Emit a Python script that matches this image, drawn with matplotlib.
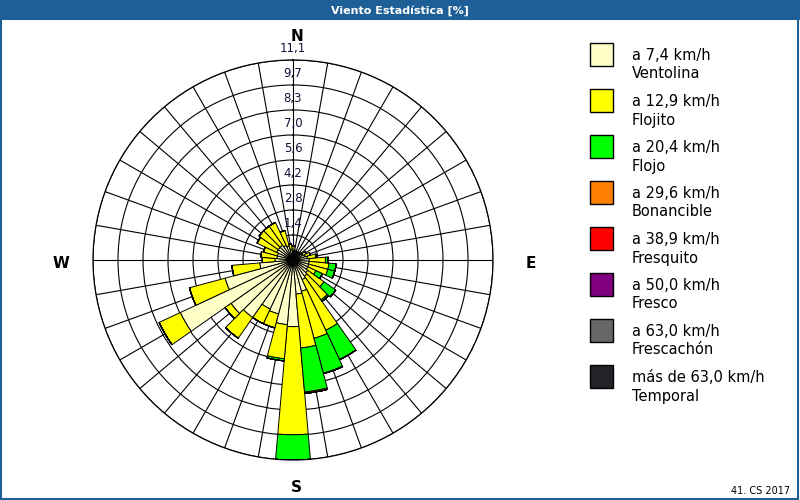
import numpy as np
import matplotlib
matplotlib.use("Agg")
import matplotlib.pyplot as plt
from matplotlib.patches import Rectangle

# wind directions (deg, clockwise from N) and % per speed class
dirs = np.arange(0, 360, 10)
ventolina = [0.5, 0.4, 0.4, 0.4, 0.4, 0.5, 0.6, 0.7, 0.8, 0.9, 0.9, 0.9,
             0.9, 1.0, 1.1, 1.2, 1.8, 1.9, 3.7, 3.6, 3.1, 3.0, 3.9, 4.2,
             6.9, 3.9, 1.85, 1.0, 0.9, 0.9, 1.0, 1.0, 1.0, 0.9, 0.8, 0.6]
flojito = [0.3, 0.1, 0.1, 0.1, 0.1, 0.1, 0.2, 0.3, 0.5, 0.9, 1.1, 1.1,
           0.5, 1.1, 1.6, 3.1, 2.7, 3.0, 6.0, 1.9, 0.8, 0.9, 1.4, 0.4,
           1.3, 2.05, 1.55, 0.7, 0.9, 0.8, 1.2, 1.3, 1.3, 1.4, 0.9, 0.3]
flojo = [0, 0, 0, 0, 0, 0, 0, 0, 0, 0.15, 0.4, 0.4,
         0.4, 0.8, 0.1, 1.8, 2.0, 2.45, 1.4, 0.12, 0, 0, 0, 0,
         0, 0, 0, 0, 0, 0, 0, 0, 0, 0, 0, 0]
bonancible = [0] * 16 + [0.03, 0.08] + [0] * 18
fresquito = [0] * 36
fresco = [0] * 36
frescachon = [0] * 36
temporal = [0] * 36

classes = [ventolina, flojito, flojo, bonancible, fresquito, fresco, frescachon, temporal]
colors = ["#ffffc8", "#ffff00", "#00ff00", "#ff8000", "#ff0000", "#800080", "#666666", "#222228"]
speeds = ["a 7,4 km/h", "a 12,9 km/h", "a 20,4 km/h", "a 29,6 km/h",
          "a 38,9 km/h", "a 50,0 km/h", "a 63,0 km/h", "más de 63,0 km/h"]
names = ["Ventolina", "Flojito", "Flojo", "Bonancible",
         "Fresquito", "Fresco", "Frescachón", "Temporal"]
ring_labels = ["1,4", "2,8", "4,2", "5,6", "7,0", "8,3", "9,7", "11,1"]
rmax = 11.1

blue = "#1f5f97"
fig = plt.figure(figsize=(8, 5), dpi=100)
fig.patch.set_facecolor("white")

# title bar and frame
fig.patches.append(Rectangle((0, 0.96), 1, 0.04, transform=fig.transFigure,
                             facecolor=blue, edgecolor="none"))
fig.patches.append(Rectangle((0.001, 0.002), 0.997, 0.96, transform=fig.transFigure,
                             facecolor="none", edgecolor=blue, lw=1.5))
fig.text(0.5, 0.979, "Viento Estadística [%]", color="white", fontsize=8,
         fontweight="bold", ha="center", va="center")

ax = fig.add_axes([0.11625, 0.08, 0.5, 0.8], projection="polar")
ax.set_theta_zero_location("N")
ax.set_theta_direction(-1)
ax.set_ylim(0, rmax)

theta = np.deg2rad(dirs)
width = np.deg2rad(10)
bottom = np.zeros(36)
for vals, c in zip(classes, colors):
    vals = np.array(vals, dtype=float)
    ax.bar(theta, vals, width=width, bottom=bottom, color=c,
           edgecolor="black", linewidth=0.7, zorder=3)
    bottom += vals

ax.set_xticks(np.deg2rad(np.arange(0, 360, 10)))
ax.set_xticklabels([])
ax.set_yticks([rmax * k / 8 for k in range(1, 9)])
ax.set_yticklabels([])
ax.grid(True, color="black", linewidth=0.8)
ax.spines["polar"].set_color("black")
ax.spines["polar"].set_linewidth(0.9)
for k, lab in enumerate(ring_labels):
    ax.text(0, rmax * (k + 1) / 8 + 0.25, lab, fontsize=8.5, ha="center",
            va="bottom", color="#10103a", zorder=4)

fig.text(0.371, 0.927, "N", fontsize=11, fontweight="bold", ha="center", va="center")
fig.text(0.370, 0.024, "S", fontsize=11, fontweight="bold", ha="center", va="center")
fig.text(0.076, 0.472, "W", fontsize=11, fontweight="bold", ha="center", va="center")
fig.text(0.664, 0.472, "E", fontsize=11, fontweight="bold", ha="center", va="center")

# legend
for i, (c, s, n) in enumerate(zip(colors, speeds, names)):
    top = 43 + i * 46
    fig.patches.append(Rectangle((590 / 800, 1 - (top + 23) / 500), 23 / 800, 23 / 500,
                                 transform=fig.transFigure, facecolor=c,
                                 edgecolor="black", lw=1))
    fig.text(632 / 800, 1 - (top + 13) / 500, s, fontsize=10.5, va="center")
    fig.text(632 / 800, 1 - (top + 31) / 500, n, fontsize=10.5, va="center")

fig.text(0.988, 0.018, "41. CS 2017", fontsize=7, ha="right", va="center")

fig.savefig("out.png", dpi=100, facecolor="white")
